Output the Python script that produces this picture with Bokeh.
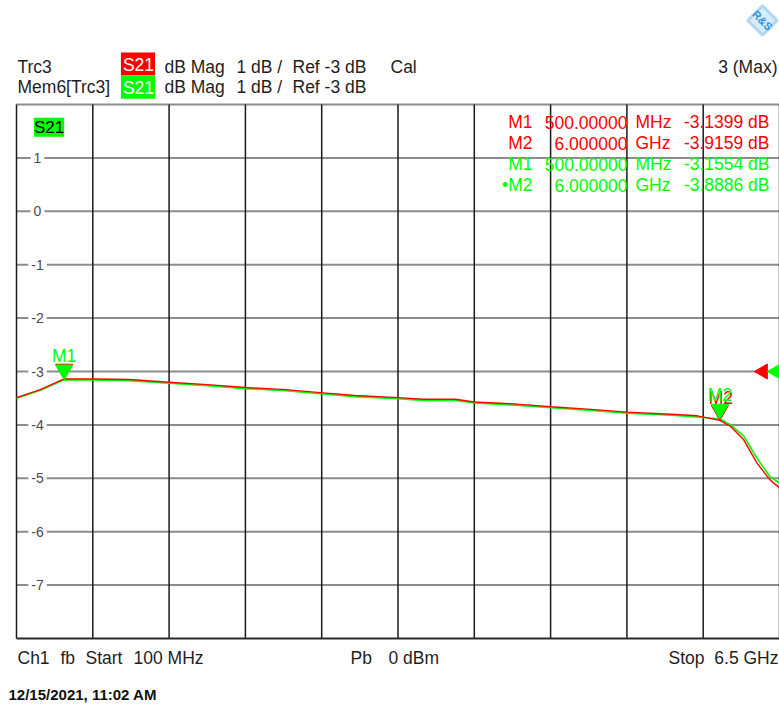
import math
from bokeh.plotting import figure
from bokeh.models import Label, ColumnDataSource, PolyAnnotation, Range1d
from bokeh.core.properties import value
from bokeh.embed import file_html
from bokeh.resources import INLINE

# ---------------- data ----------------
f_start, f_stop = 0.1, 6.5          # GHz
y_bottom, y_top = -8, 2             # dB
y_ticks = [1, 0, -1, -2, -3, -4, -5, -6, -7]
ref_level = -3
n_xdiv = 10

freq = [0.10, 0.30, 0.50, 0.74, 1.04, 1.38, 1.73, 2.02, 2.36, 2.67, 2.94, 3.30, 3.51,
        3.78, 3.94, 4.29, 4.58, 4.92, 5.22, 5.59, 5.81, 6.00, 6.09, 6.20, 6.31, 6.42, 6.50]
trc3 = [-3.49, -3.34, -3.14, -3.14, -3.15, -3.20, -3.25, -3.30, -3.34, -3.40, -3.45, -3.49, -3.52,
        -3.52, -3.57, -3.61, -3.66, -3.71, -3.76, -3.80, -3.83, -3.916, -4.03, -4.28, -4.71, -5.03, -5.18]
mem6 = [-3.50, -3.35, -3.155, -3.16, -3.17, -3.22, -3.27, -3.32, -3.36, -3.42, -3.47, -3.51, -3.54,
        -3.54, -3.59, -3.63, -3.68, -3.73, -3.78, -3.82, -3.85, -3.889, -4.00, -4.21, -4.62, -4.97, -5.09]

marker_names = ["M1", "M2"]
marker_freq = [0.5, 6.0]
trc3_marker_vals = [-3.1399, -3.9159]
mem6_marker_vals = [-3.1554, -3.8886]

RED = "#ff0000"
GREEN = "#00ff00"
TXT = "#1e1e1e"
FONT = "Liberation Sans"
FS = "17.5px"
ALPHA_FIX = 6.5   # correction for the renderer's alphabetic baseline placement

# ---------------- layout ----------------
W, H = 779, 710
X0, Y0 = 16, 104          # diagram box top-left in canvas pixels
BW, BH = 763, 534         # diagram box size
PPX = BW / (f_stop - f_start)
PPY = BH / (y_top - y_bottom)

# the frame covers the whole canvas; ranges are extended so the diagram box sits at X0,Y0
x_lo = f_start - X0 / PPX
x_hi = f_stop + (W - X0 - BW) / PPX
y_hi = y_top + Y0 / PPY
y_lo = y_bottom - (H - Y0 - BH) / PPY

p = figure(width=W, height=H, output_backend="svg", toolbar_location=None,
           x_range=Range1d(x_lo, x_hi), y_range=Range1d(y_lo, y_hi),
           min_border=0, min_border_left=0, min_border_right=0,
           min_border_top=0, min_border_bottom=0)
p.xaxis.visible = False
p.yaxis.visible = False
p.grid.visible = False
p.background_fill_color = "white"
p.border_fill_color = "white"
p.outline_line_color = None


def sx(px):
    return px


def sy(py):
    return H - py


# grid: horizontal (grey) and vertical (dark)
h_lines = list(range(y_bottom + 1, y_top + 1))
p.segment(x0=[f_start] * len(h_lines), x1=[f_stop] * len(h_lines), y0=h_lines, y1=h_lines,
          line_color="#8c8c8c", line_width=2)
v_lines = [f_start + k * (f_stop - f_start) / n_xdiv for k in range(n_xdiv + 1)]
p.segment(x0=v_lines, x1=v_lines, y0=[y_bottom] * len(v_lines), y1=[y_top] * len(v_lines),
          line_color="#1a1a1a", line_width=1.5)
# bottom border (dark)
p.segment(x0=[f_start], x1=[f_stop], y0=[y_bottom], y1=[y_bottom], line_color="#2a2a2a", line_width=2)

# y tick labels inside plot with white background
tick_src = ColumnDataSource(dict(x=[f_start] * len(y_ticks), y=y_ticks,
                                 t=[str(v) for v in y_ticks]))
p.text(x="x", y="y", text="t", source=tick_src, x_offset=21, text_align="center",
       text_baseline="middle", text_font=value(FONT), text_font_size="14px",
       text_color="#4a4a4a", background_fill_color="white", padding=3)

# traces
p.line(freq, mem6, color=GREEN, line_width=1.6)
p.line(freq, trc3, color=RED, line_width=1.4)

# markers (inverted triangles, apex on trace)
tri_size = 17
apex_off = (tri_size / 2) * math.sqrt(3) * 2 / 3 / PPY
p.scatter(marker_freq, [v + apex_off for v in trc3_marker_vals],
          marker="inverted_triangle", size=tri_size, fill_color=RED, line_color=RED)
p.scatter(marker_freq, [v + apex_off for v in mem6_marker_vals],
          marker="inverted_triangle", size=tri_size, fill_color=GREEN, line_color=GREEN)

# marker labels
p.text(x=[marker_freq[1]], y=[trc3_marker_vals[1]], text=[marker_names[1]], x_offset=1,
       y_offset=-16 - ALPHA_FIX,
       text_align="center", text_baseline="alphabetic", text_font=value(FONT),
       text_font_size=FS, text_color=RED)
p.text(x=marker_freq, y=mem6_marker_vals, text=marker_names, y_offset=-17 - ALPHA_FIX,
       text_align="center", text_baseline="alphabetic", text_font=value(FONT),
       text_font_size=FS, text_color=GREEN)

# reference level arrows at right edge
arr_size = 15
p.scatter([f_stop - 16.5 / PPX], [ref_level], marker="triangle", angle=math.pi / 2,
          size=arr_size, fill_color=RED, line_color=RED)
p.scatter([f_stop - 3.5 / PPX], [ref_level], marker="triangle", angle=math.pi / 2,
          size=arr_size, fill_color=GREEN, line_color=GREEN)


def lab(text, px, py, color=TXT, align="left", size=FS, bold=False, bg=None, pad=0, baseline="alphabetic"):
    if baseline == "alphabetic":
        py = py - ALPHA_FIX
    p.add_layout(Label(x=sx(px), y=sy(py), x_units="screen", y_units="screen", text=text,
                       text_align=align, text_baseline=baseline, text_font=FONT,
                       text_font_size=size, text_color=color,
                       text_font_style="bold" if bold else "normal",
                       background_fill_color=bg, padding=pad))


# header
lab("Trc3", 17, 72.7)
lab("Mem6[Trc3]", 17, 93.3)
lab("S21", 137.5, 63.5, color="white", align="center", bg=RED, pad=[2, 1, 2, 1], baseline="middle")
lab("S21", 137.5, 86.7, color="white", align="center", bg=GREEN, pad=[2, 1, 2, 1], baseline="middle")
for row_y in (72.7, 93.3):
    lab("dB Mag", 164, row_y)
    lab("1 dB /", 236, row_y)
    lab("Ref -3 dB", 292, row_y)
lab("Cal", 390, 72.7)
lab("3 (Max)", 777, 72.7, align="right")

# S21 box in the diagram
lab("S21", 48.5, 126.7, color="black", align="center", bg=GREEN, pad=[0, 0, 0, 0], baseline="middle",
    size="17px")


# marker table
def fmt_freq(f):
    if f < 1:
        return "%.5f" % (f * 1000), "MHz"
    return "%.6f" % f, "GHz"


rows = []
for name, f, v in zip(marker_names, marker_freq, trc3_marker_vals):
    rows.append((name, f, v, RED))
for i, (name, f, v) in enumerate(zip(marker_names, marker_freq, mem6_marker_vals)):
    rows.append(("\u2022" + name if i == 1 else name, f, v, GREEN))
for k, (name, f, v, col) in enumerate(rows):
    base = 128 + k * 21
    num, unit = fmt_freq(f)
    lab(name, 532, base, color=col, align="right")
    lab(num, 627, base, color=col, align="right")
    lab(unit, 635, base, color=col)
    lab("%.4f dB" % v, 769, base, color=col, align="right")

# footer
lab("Ch1", 17, 664)
lab("fb", 60, 664)
lab("Start", 85, 664)
lab("100 MHz", 133, 664)
lab("Pb", 350, 664)
lab("0 dBm", 388, 664)
lab("Stop", 668, 664)
lab("6.5 GHz", 778, 664, align="right")
lab("12/15/2021, 11:02 AM", 8, 700.5, size="15px", bold=True, color="#111111")

# logo diamond
cx, cy, r = 762, 20, 15
p.add_layout(PolyAnnotation(xs=[sx(cx), sx(cx + r), sx(cx), sx(cx - r)],
                            ys=[sy(cy - r), sy(cy), sy(cy + r), sy(cy)],
                            xs_units="screen", ys_units="screen",
                            fill_color="#d6ecfa", fill_alpha=1, line_color="#2e95e0", line_width=3))
p.add_layout(Label(x=sx(cx), y=sy(cy), x_units="screen", y_units="screen", text="R&S",
                   text_align="center", text_baseline="middle", angle=-math.pi / 4,
                   text_font=FONT, text_font_size="11px", text_color="#2e95e0",
                   text_font_style="bold"))

open("out.html", "w").write(file_html(p, INLINE))
